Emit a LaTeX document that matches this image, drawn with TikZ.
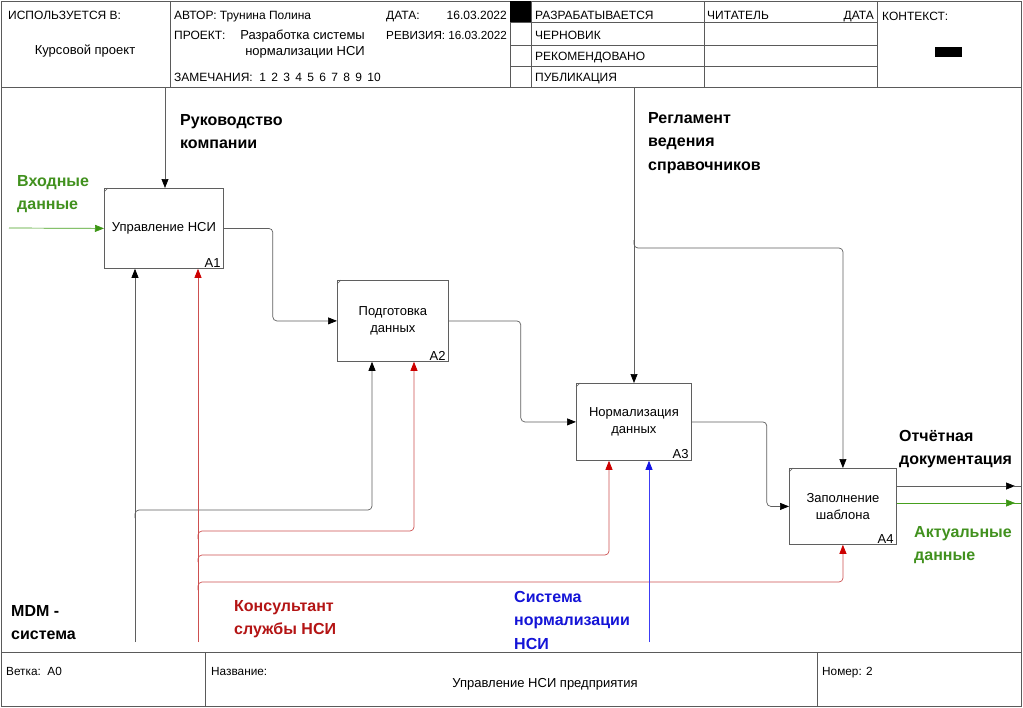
\documentclass[tikz,border=0pt]{standalone}
\usepackage{fontspec}
\setmainfont{Liberation Sans}
\usetikzlibrary{arrows.meta}
\definecolor{lgray}{RGB}{95,95,95}
\definecolor{frm}{RGB}{90,90,90}
\definecolor{grnline}{RGB}{70,160,30}
\definecolor{grntip}{RGB}{60,150,20}
\definecolor{grntxt}{RGB}{65,145,30}
\definecolor{redline}{RGB}{205,80,80}
\definecolor{redtip}{RGB}{205,0,0}
\definecolor{redtxt}{RGB}{180,20,20}
\definecolor{blueline}{RGB}{60,60,245}
\definecolor{bluetip}{RGB}{20,20,230}
\definecolor{bluetxt}{RGB}{20,20,215}
\tikzset{
  frame/.style={draw=frm, line width=0.8pt},
  fbox/.style={draw=lgray, line width=0.8pt, anchor=north west, inner sep=0pt, align=center,
    font=\fontsize{13}{16.5}\selectfont},
  boxlab/.style={anchor=south east, inner sep=0pt, font=\fontsize{13}{15}\selectfont},
  hdr/.style={anchor=base west, inner sep=0pt, font=\fontsize{12}{14}\selectfont},
  hdrs/.style={inner sep=0pt, font=\fontsize{13}{15}\selectfont},
  ftr/.style={anchor=base west, inner sep=0pt, font=\fontsize{11.8}{14}\selectfont},
  lbl/.style={anchor=north west, inner sep=0pt, align=left, font=\bfseries\fontsize{16}{23.5}\selectfont},
  lnk/.style={draw=lgray, line width=0.7pt, rounded corners=4pt},
  lnr/.style={draw=redline, line width=0.7pt, rounded corners=4pt},
  lng/.style={draw=grnline, line width=0.7pt},
  lnb/.style={draw=blueline, line width=0.7pt},
  tk/.style={-{Triangle[length=9pt,width=7pt,color=black]}},
  tr/.style={-{Triangle[length=9pt,width=7pt,color=redtip]}},
  tg/.style={-{Triangle[length=9pt,width=7pt,color=grntip]}},
  tb/.style={-{Triangle[length=9pt,width=7pt,color=bluetip]}},
}
\begin{document}
\begin{tikzpicture}[x=1pt,y=-1pt]
\useasboundingbox (0,0) rectangle (1023,707);
\fill[white] (0,0) rectangle (1023,707);
% frame
\draw[frame] (1,1) rectangle (1021,706);
\draw[frame] (1,87) -- (1021,87);
\draw[frame] (170,1) -- (170,87);
\draw[frame] (510,1) -- (510,87);
\draw[frame] (531,1) -- (531,87);
\draw[frame] (704,1) -- (704,87);
\draw[frame] (877,1) -- (877,87);
\draw[frame] (510,22) -- (877,22);
\draw[frame] (510,45) -- (877,45);
\draw[frame] (510,66) -- (877,66);
\fill[black] (510,1) rectangle (531,22);
\fill[black] (935,47) rectangle (962,57);
\draw[frame] (1,652) -- (1021,652);
\draw[frame] (205,652) -- (205,706);
\draw[frame] (817,652) -- (817,706);
% header texts
\node[hdr] (h1) at (8,19) {ИСПОЛЬЗУЕТСЯ В:};
\node[hdrs, anchor=base] (h2) at (85,54) {Курсовой проект};
\node[hdr] (h3) at (174,19) {АВТОР: Трунина Полина};
\node[hdr] (h4) at (386,19) {ДАТА:};
\node[hdr, anchor=base east] (h5) at (507,19) {16.03.2022};
\node[hdr] (h6) at (174,39) {ПРОЕКТ:};
\node[hdrs, anchor=base east] (h7) at (365,39) {Разработка системы};
\node[hdrs, anchor=base east] (h8) at (365,55) {нормализации НСИ};
\node[hdr, font=\fontsize{11.7}{14}\selectfont] (h9) at (386,39) {РЕВИЗИЯ: 16.03.2022};
\node[hdr] (h10) at (174,81) {ЗАМЕЧАНИЯ:\ \ 1\,\ 2\,\ 3\,\ 4\,\ 5\,\ 6\,\ 7\,\ 8\,\ 9\,\ 10};
\node[hdr] (h11) at (535,19) {РАЗРАБАТЫВАЕТСЯ};
\node[hdr] (h12) at (535,39) {ЧЕРНОВИК};
\node[hdr] (h13) at (535,60) {РЕКОМЕНДОВАНО};
\node[hdr] (h14) at (535,81) {ПУБЛИКАЦИЯ};
\node[hdr] (h15) at (707,19) {ЧИТАТЕЛЬ};
\node[hdr, anchor=base east] (h16) at (874,19) {ДАТА};
\node[hdr] (h17) at (882,20) {КОНТЕКСТ:};
% footer texts
\node[ftr] (f1) at (6,675) {Ветка:\ \ А0};
\node[ftr] (f2) at (211,675) {Название:};
\node[hdrs, anchor=base] (f3) at (545,687) {Управление НСИ предприятия};
\node[ftr] (f4) at (822,675) {Номер: 2};
% boxes
\node[fbox, minimum width=119pt, minimum height=80pt] (A1) at (104,188) {Управление НСИ};
\node[fbox, minimum width=111pt, minimum height=81pt] (A2) at (337,280) {Подготовка\\данных};
\node[fbox, minimum width=115pt, minimum height=77pt] (A3) at (576,383) {Нормализация\\данных};
\node[fbox, minimum width=107pt, minimum height=76pt] (A4) at (789,468) {Заполнение\\шаблона};
\foreach \b in {A1,A2,A3,A4}{
  \draw[lgray, line width=0.6pt] (\b.north west) ++(0,4) -- ++(4,-4);
}
\node[boxlab] (lA1) at ([xshift=-3pt,yshift=1.5pt]A1.south east) {A1};
\node[boxlab] (lA2) at ([xshift=-3pt,yshift=1.5pt]A2.south east) {A2};
\node[boxlab] (lA3) at ([xshift=-3pt,yshift=1.5pt]A3.south east) {A3};
\node[boxlab] (lA4) at ([xshift=-3pt,yshift=1.5pt]A4.south east) {A4};
% coordinates
\coordinate (in1) at (9,228);
\coordinate (c1) at (165,87);
\coordinate (c2) at (634,87);
\coordinate (c2a) at (634,240);
\coordinate (c2b) at (843,248);
\coordinate (m1) at (135,642);
\coordinate (m1a) at (135,518);
\coordinate (m1b) at (372,510);
\coordinate (m2) at (198,642);
\coordinate (m2a) at (198,539);
\coordinate (m2b) at (414,531);
\coordinate (m2c) at (198,562);
\coordinate (m2d) at (609,555);
\coordinate (m2e) at (198,590);
\coordinate (m2f) at (843,582);
\coordinate (m3) at (649,642);
\coordinate (o1) at (1021,486);
\coordinate (o2) at (1021,503);
% connectors
\draw[lng, tg] (in1) -- (A1.west);
\draw[lnk, tk] (c1) -- (c1 |- A1.north);
\draw[lnk, tk] (A1.east) -- ++(49,0) |- (A2.west);
\draw[lnk, tk] (A2.east) -- ++(72,0) |- (A3.west);
\draw[lnk, tk] (A3.east) -- ++(75,0) |- (A4.west);
\draw[lnk, tk] (c2) -- (c2 |- A3.north);
\draw[lnk, tk] (c2a) |- (c2b) -- (A4.north);
\draw[lnk, tk] (A4.east |- o1) -- ([xshift=-6pt]o1);
\draw[lnk] ([xshift=-8pt]o1) -- (o1);
\draw[lng, tg] (A4.east |- o2) -- ([xshift=-6pt]o2);
\draw[lng] ([xshift=-8pt]o2) -- (o2);
\draw[lnk, tk] (m1) -- (m1 |- A1.south);
\draw[lnk, tk] (m1a) |- (m1b) -- (m1b |- A2.south);
\draw[lnr, tr] (m2) -- (m2 |- A1.south);
\draw[lnr, tr] (m2a) |- (m2b) -- (m2b |- A2.south);
\draw[lnr, tr] (m2c) |- (m2d) -- (m2d |- A3.south);
\draw[lnr, tr] (m2e) |- (m2f) -- (A4.south);
\draw[lnb, tb] (m3) -- (m3 |- A3.south);
% labels
\node[lbl] (L1) at (180,114) {Руководство\\компании};
\node[lbl, text=grntxt] (L2) at (17,175) {Входные\\данные};
\node[lbl] (L3) at (648,112) {Регламент\\ведения\\справочников};
\node[lbl] (L4) at (899,430) {Отчётная\\документация};
\node[lbl, text=grntxt] (L5) at (914,526) {Актуальные\\данные};
\node[lbl] (L6) at (11,605) {MDM -\\система};
\node[lbl, text=redtxt] (L7) at (234,600) {Консультант\\службы НСИ};
\node[lbl, text=bluetxt] (L8) at (514,591) {Система\\нормализации\\НСИ};
\end{tikzpicture}
\end{document}
